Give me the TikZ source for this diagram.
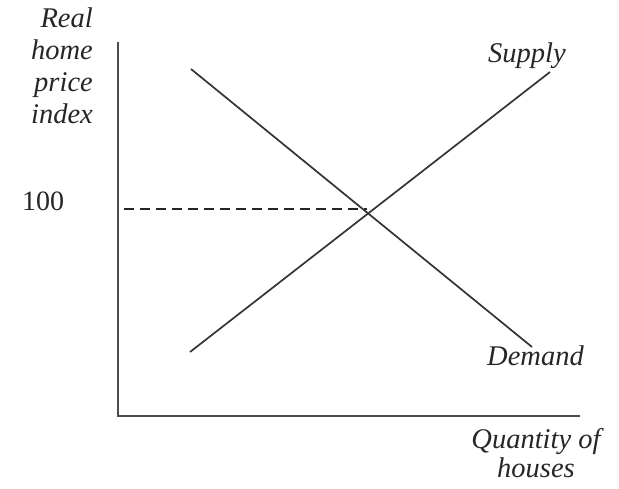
\documentclass[tikz,border=0pt]{standalone}
\usepackage{fontspec}
\setmainfont{Liberation Serif}
\begin{document}
\begin{tikzpicture}[x=1pt,y=1pt,
  curve/.style={line width=1.7pt,draw=black!80},
  axis/.style={line width=1.9pt,draw=black!70},
  lbl/.style={inner sep=0pt,text=black!85,font=\fontsize{28.5}{32}\selectfont\itshape},
  num/.style={inner sep=0pt,text=black!85,font=\fontsize{28}{32}\selectfont}]
\useasboundingbox (0,0) rectangle (619,488);
% axes
\coordinate (ytop) at (118,446);
\coordinate (origin) at (118,72);
\coordinate (xend) at (580,72);
\draw[axis] (ytop) -- (origin) -- (xend);
% supply and demand
\coordinate (s0) at (190,136);
\coordinate (s1) at (550,416);
\coordinate (d0) at (191,419);
\coordinate (d1) at (532,141);
\draw[curve] (s0) -- (s1);
\draw[curve] (d0) -- (d1);
% price level
\coordinate (p0) at (124,279);
\coordinate (eq) at (367,279);
\draw[line width=1.6pt,draw=black!85,dash pattern=on 10pt off 6pt] (p0) -- (eq);
% labels
\node[lbl,align=right,anchor=north east] (ylab) at (93,480) {Real\\home\\price\\index};
\node[num,anchor=base west] (hundred) at (22,277) {100};
\node[lbl,anchor=base west] (slab) at (488,425) {Supply};
\node[lbl,anchor=base west] (dlab) at (487,122) {Demand};
\node[lbl,align=center,anchor=base,font=\fontsize{28.5}{29}\selectfont\itshape] (xlab) at (536,11) {Quantity of\\houses};
\end{tikzpicture}
\end{document}
